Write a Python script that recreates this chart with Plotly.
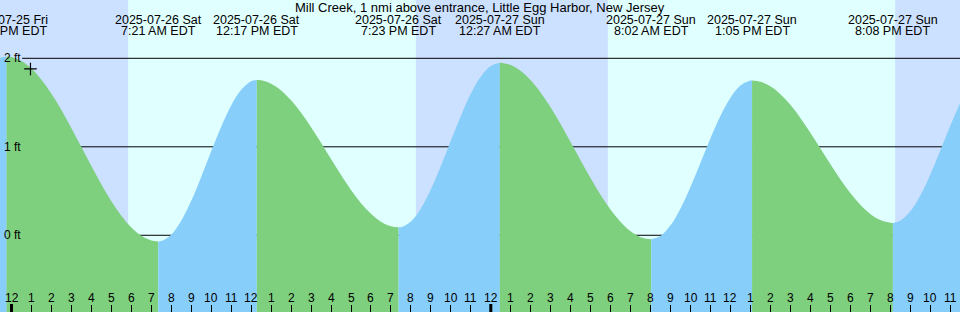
import plotly.graph_objects as go

# ---------------- data ----------------
title_text = "Mill Creek, 1 nmi above entrance, Little Egg Harbor, New Jersey"

# hours since 2025-07-26 00:00 EDT, tide height in ft
tide_hours = [-1, -0.5, -0.25, 0, 0.5, 1, 1.5, 2, 2.5, 3, 3.5, 4, 4.5, 5, 5.5, 6, 6.5, 7, 7.35,
              7.5, 8, 8.5, 9, 9.5, 10, 10.5, 11, 11.5, 12, 12.283,
              12.5, 13, 13.5, 14, 14.5, 15, 15.5, 16, 16.5, 17, 17.5, 18, 18.5, 19, 19.383,
              19.5, 20, 20.5, 21, 21.5, 22, 22.5, 23, 23.5, 24, 24.45,
              24.5, 25, 25.5, 26, 26.5, 27, 27.5, 28, 28.5, 29, 29.5, 30, 30.5, 31, 31.5, 32.033,
              32.5, 33, 33.5, 34, 34.5, 35, 35.5, 36, 36.5, 37, 37.083,
              37.5, 38, 38.5, 39, 39.5, 40, 40.5, 41, 41.5, 42, 42.5, 43, 43.5, 44, 44.133,
              44.5, 45, 45.5, 46, 46.5, 47, 47.5, 48]
tide_ft = [1.98, 2.01, 2.02, 2.014, 1.970, 1.884, 1.758, 1.600, 1.415, 1.211, 0.997, 0.782,
           0.575, 0.385, 0.220, 0.088, -0.006, -0.059, -0.07,
           -0.066, 0.007, 0.164, 0.389, 0.660, 0.949, 1.227, 1.468, 1.644, 1.740, 1.755,
           1.751, 1.713, 1.637, 1.526, 1.385, 1.222, 1.045, 0.861, 0.681, 0.512, 0.362, 0.242,
           0.153, 0.102, 0.09,
           0.092, 0.157, 0.304, 0.520, 0.783, 1.068, 1.349, 1.599, 1.793, 1.914, 1.95,
           1.950, 1.924, 1.857, 1.751, 1.611, 1.443, 1.254, 1.052, 0.846, 0.644, 0.456, 0.288,
           0.150, 0.045, -0.021, -0.045,
           -0.007, 0.112, 0.304, 0.547, 0.820, 1.096, 1.348, 1.553, 1.692, 1.749, 1.75,
           1.736, 1.684, 1.595, 1.474, 1.326, 1.160, 0.984, 0.805, 0.633, 0.477, 0.344, 0.241,
           0.172, 0.142, 0.14,
           0.163, 0.268, 0.446, 0.682, 0.952, 1.231, 1.492, 1.711]

# tide extremes (hour)
event_hours = [-0.25, 7.35, 12.283, 19.383, 24.45, 32.033, 37.083, 44.133, 49.2]
event_dates = ["2025-07-25 Fri", "2025-07-26 Sat", "2025-07-26 Sat", "2025-07-26 Sat",
               "2025-07-27 Sun", "2025-07-27 Sun", "2025-07-27 Sun", "2025-07-27 Sun",
               "2025-07-28 Mon"]
event_times = ["11:45 PM EDT", "7:21 AM EDT", "12:17 PM EDT", "7:23 PM EDT",
               "12:27 AM EDT", "8:02 AM EDT", "1:05 PM EDT", "8:08 PM EDT",
               "1:12 AM EDT"]

# daylight periods (sunrise, sunset) in hours
sunrise_hours = [5.84, 29.86]
sunset_hours = [20.25, 44.25]

# hour ticks
hour_ticks = list(range(0, 48))
hour_labels = ["12", "1", "2", "3", "4", "5", "6", "7", "8", "9", "10", "11",
               "12", "1", "2", "3", "4", "5", "6", "7", "8", "9", "10", "11",
               "12", "1", "2", "3", "4", "5", "6", "7", "8", "9", "10", "11",
               "12", "1", "2", "3", "4", "5", "6", "7", "8", "9", "10", "11"]
midnights = [0, 24]

ft_levels = [0, 1, 2]
ft_labels = ["0 ft", "1 ft", "2 ft"]

now_hour = [0.95]
now_ft = [1.88]

# ---------------- style ----------------
W, H = 960, 312
X_RANGE = [-0.576, 47.495]
Y_RANGE = [-0.867, 2.659]
Y_BOTTOM = -1.2
NIGHT = "#CCE0FF"
DAY = "#E0FFFF"
FLOOD = "#87CEFA"   # rising
EBB = "#7ECF7E"     # falling
FONT = "Liberation Sans, Arial, sans-serif"

fig = go.Figure()

# split curve into segments at extremes
bounds = [tide_hours[0]] + [h for h in event_hours if tide_hours[0] < h < tide_hours[-1]] + [tide_hours[-1]]
for i in range(len(bounds) - 1):
    a, b = bounds[i], bounds[i + 1]
    xs = [h for h in tide_hours if a <= h <= b]
    ys = [tide_ft[tide_hours.index(h)] for h in xs]
    if len(xs) < 2:
        continue
    rising = ys[-1] > ys[0]
    color = FLOOD if rising else EBB
    fig.add_trace(go.Scatter(x=[xs[0], xs[-1]], y=[Y_BOTTOM, Y_BOTTOM], mode="lines",
                             line=dict(width=0), hoverinfo="skip", showlegend=False))
    fig.add_trace(go.Scatter(x=xs, y=ys, mode="lines", line=dict(width=0, shape="spline"),
                             fill="tonexty", fillcolor=color, hoverinfo="skip",
                             showlegend=False))

# now marker
fig.add_trace(go.Scatter(x=now_hour, y=now_ft, mode="markers",
                         marker=dict(symbol="cross-thin", size=9,
                                     line=dict(width=1.2, color="black")),
                         hoverinfo="skip", showlegend=False))

shapes = []
for sr, ss in zip(sunrise_hours, sunset_hours):
    shapes.append(dict(type="rect", xref="x", yref="paper", x0=sr, x1=ss, y0=0, y1=1,
                       fillcolor=DAY, line=dict(width=0), layer="below"))
for lv in ft_levels:
    shapes.append(dict(type="line", xref="paper", yref="y", x0=0.023, x1=1, y0=lv, y1=lv,
                       line=dict(color="black", width=1), layer="below"))
for m in midnights:
    shapes.append(dict(type="line", xref="x", yref="paper", x0=m, x1=m, y0=0, y1=8 / H,
                       line=dict(color="black", width=3), layer="above"))

annotations = []
annotations.append(dict(text=title_text, xref="paper", yref="paper", x=0.5, y=1 - 7.5 / H,
                        xanchor="center", yanchor="middle", showarrow=False,
                        font=dict(family=FONT, size=13, color="black")))
for h, d, t in zip(event_hours, event_dates, event_times):
    annotations.append(dict(text=d, xref="x", yref="paper", x=h, y=1 - 20 / H,
                            xanchor="center", yanchor="middle", showarrow=False, borderpad=0,
                            font=dict(family=FONT, size=12.5, color="black")))
    annotations.append(dict(text=t, xref="x", yref="paper", x=h, y=1 - 31.5 / H,
                            xanchor="center", yanchor="middle", showarrow=False, borderpad=0,
                            font=dict(family=FONT, size=12.5, color="black")))
for lv, lb in zip(ft_levels, ft_labels):
    annotations.append(dict(text=lb, xref="paper", yref="y", x=0.002, y=lv,
                            xanchor="left", yanchor="middle", showarrow=False,
                            font=dict(family=FONT, size=12, color="black")))
for h, lb in zip(hour_ticks, hour_labels):
    annotations.append(dict(text=lb, xref="x", yref="paper", x=h, y=14 / H,
                            xanchor="center", yanchor="middle", showarrow=False,
                            font=dict(family=FONT, size=12, color="black")))

fig.update_layout(
    width=W, height=H,
    margin=dict(l=0, r=0, t=0, b=0),
    paper_bgcolor=NIGHT, plot_bgcolor=NIGHT,
    showlegend=False,
    shapes=shapes, annotations=annotations,
    xaxis=dict(range=X_RANGE, showgrid=False, zeroline=False, showline=False,
               tickmode="array", tickvals=hour_ticks, ticks="inside", ticklen=7,
               tickwidth=1, tickcolor="black", showticklabels=False, fixedrange=True),
    yaxis=dict(range=Y_RANGE, showgrid=False, zeroline=False, showline=False,
               showticklabels=False, ticks="", fixedrange=True),
)

fig.write_html("out.html")
